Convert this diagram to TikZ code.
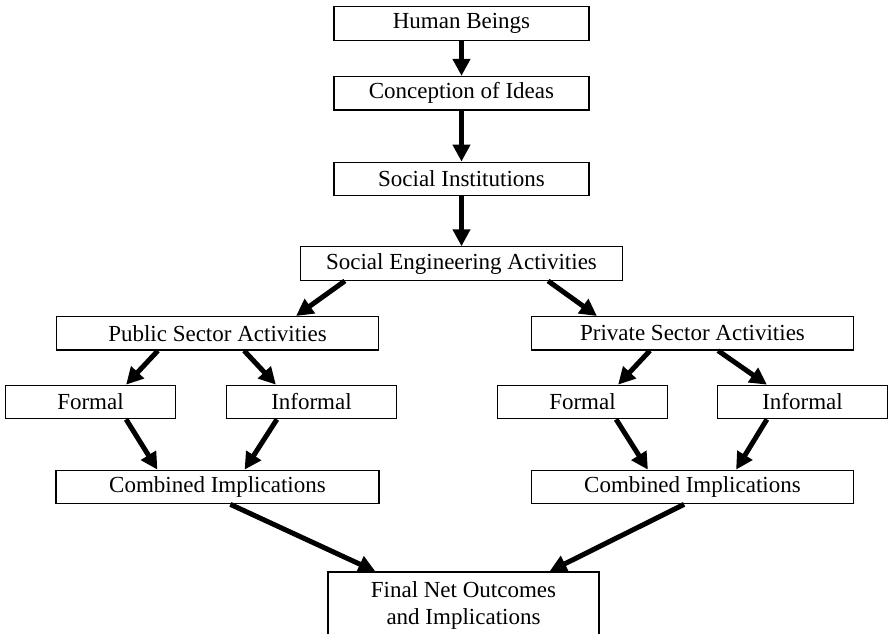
\documentclass[tikz,border=0pt]{standalone}
\usepackage{fontspec}
\setmainfont{Liberation Serif}
\usepackage{tikz}
\usetikzlibrary{arrows.meta,positioning,calc}
\tikzset{
  box/.style={draw=black, line width=0.6pt, align=center, fill=white, inner sep=2pt, minimum height=16.75pt, font=\fontsize{11.5}{13.5}\selectfont},
  thickarrow/.style={-{Triangle[length=8.5pt, width=8.5pt]}, line width=2.5pt, draw=black}
}
\begin{document}
\begin{tikzpicture}
  \useasboundingbox (-230.75pt,11.75pt) rectangle (213.25pt,-304.75pt);
  \node[box, minimum width=127.5pt] (human) at (0,0) {Human Beings};
  \node[box, minimum width=127.5pt, below=17.5pt of human] (ideas) {Conception of Ideas};
  \node[box, minimum width=127.5pt, below=25.5pt of ideas] (inst) {Social Institutions};
  \node[box, minimum width=161pt, below=25pt of inst] (soceng) {Social Engineering Activities};
  \node[box, minimum width=161pt, below=17.5pt of soceng, xshift=-122pt] (public) {Public Sector Activities};
  \node[box, minimum width=161pt, below=17.5pt of soceng, xshift=115.5pt] (private) {Private Sector Activities};
  \node[box, minimum width=85pt, below=17pt of public, xshift=-63.5pt] (formalL) {Formal};
  \node[box, minimum width=85pt, below=17pt of public, xshift=47pt] (informalL) {Informal};
  \node[box, minimum width=85pt, below=17pt of private, xshift=-55pt] (formalR) {Formal};
  \node[box, minimum width=85pt, below=17pt of private, xshift=55pt] (informalR) {Informal};
  \node[box, minimum width=161.5pt, below=59.5pt of public] (combL) {Combined Implications};
  \node[box, minimum width=161pt, below=59.5pt of private] (combR) {Combined Implications};
  \node[box, minimum width=135.5pt, minimum height=33.5pt, below=33.5pt of combL, xshift=123pt] (final) {Final Net Outcomes\\and Implications};

  \draw[thickarrow] (human) -- (ideas);
  \draw[thickarrow] (ideas) -- (inst);
  \draw[thickarrow] (inst) -- (soceng);
  \draw[thickarrow] ($(soceng.south west)+(22.5pt,0)$) -- ($(public.north east)+(-41.5pt,0)$);
  \draw[thickarrow] ($(soceng.south east)+(-37.5pt,0)$) -- ($(private.north west)+(33pt,0)$);
  \draw[thickarrow] ($(public.south west)+(51pt,0)$) -- ($(formalL.north east)+(-25pt,0)$);
  \draw[thickarrow] ($(public.south east)+(-67.5pt,0)$) -- ($(informalL.north west)+(25pt,0)$);
  \draw[thickarrow] ($(private.south west)+(59.5pt,0)$) -- ($(formalR.north east)+(-25pt,0)$);
  \draw[thickarrow] ($(private.south east)+(-68pt,0)$) -- ($(informalR.north west)+(25pt,0)$);
  \draw[thickarrow] ($(formalL.south east)+(-25pt,0)$) -- ($(combL.north west)+(51pt,0)$);
  \draw[thickarrow] ($(informalL.south west)+(25.5pt,0)$) -- ($(combL.north east)+(-67.5pt,0)$);
  \draw[thickarrow] ($(formalR.south east)+(-26pt,0)$) -- ($(combR.north west)+(58.5pt,0)$);
  \draw[thickarrow] ($(informalR.south west)+(25pt,0)$) -- ($(combR.north east)+(-59pt,0)$);
  \draw[thickarrow] ($(combL.south west)+(87.5pt,0)$) -- ($(final.north west)+(24pt,0)$);
  \draw[thickarrow] ($(combR.south east)+(-85pt,0)$) -- ($(final.north east)+(-25pt,0)$);
\end{tikzpicture}
\end{document}
